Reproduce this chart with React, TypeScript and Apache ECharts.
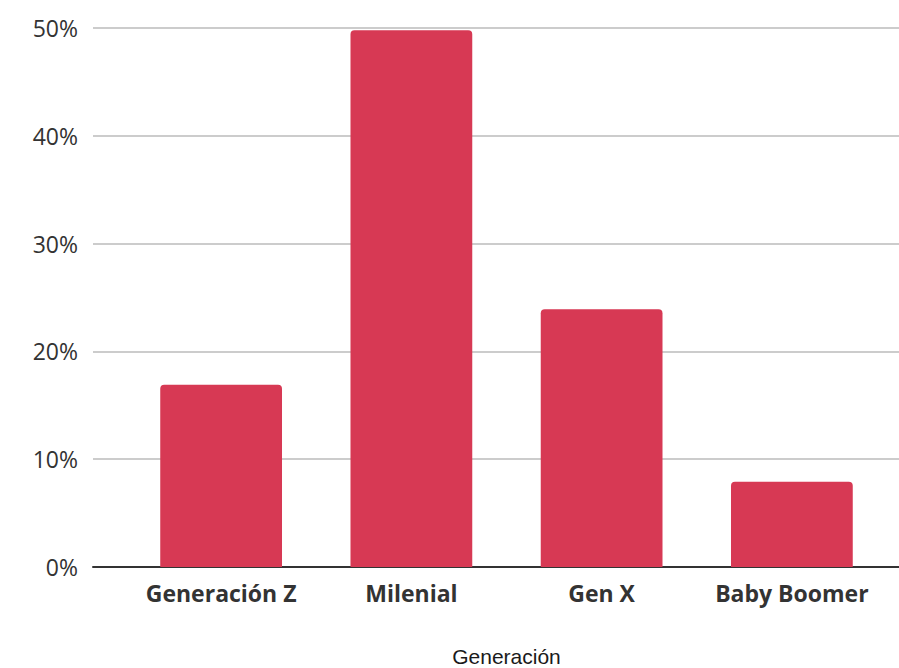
import React, { useEffect, useRef } from "react";
import * as echarts from "echarts";

const categories = ["Generación Z", "Milenial", "Gen X", "Baby Boomer"];
const shares = [16.9, 49.8, 23.9, 7.9];
const yTicks = [0, 10, 20, 30, 40, 50];
const xTitle = "Generación";

export default function App() {
  const ref = useRef<HTMLDivElement>(null);
  useEffect(() => {
    if (!ref.current) return;
    const chart = echarts.init(ref.current, null, { renderer: "svg" });
    const font = "'Open Sans', 'DejaVu Sans', sans-serif";
    chart.setOption({
      animation: false,
      backgroundColor: "#ffffff",
      grid: [
        { left: 93, right: 0, top: 28, bottom: 101, outerBoundsMode: "none", containLabel: false },
        { left: 126, right: 12, top: 28, bottom: 101, outerBoundsMode: "none", containLabel: false },
      ],
      xAxis: [
        {
          gridIndex: 0,
          type: "value",
          min: 0,
          max: 1,
          axisLine: { show: true, lineStyle: { color: "#333333", width: 2 } },
          axisTick: { show: false },
          axisLabel: { show: false },
          splitLine: { show: false },
        },
        {
          gridIndex: 1,
          type: "category",
          data: categories,
          axisLine: { show: false },
          axisTick: { show: false },
          axisLabel: {
            interval: 0,
            hideOverlap: false,
            color: "#333333",
            fontFamily: font,
            fontWeight: "bold",
            fontSize: 23,
            margin: 14,
          },
          name: xTitle,
          nameLocation: "middle",
          nameGap: 79,
          nameTextStyle: {
            color: "#1a1a1a",
            fontFamily: "'Liberation Sans', Arial, sans-serif",
            fontSize: 21,
          },
        },
      ],
      yAxis: [
        {
          gridIndex: 0,
          type: "value",
          min: yTicks[0],
          max: yTicks[yTicks.length - 1],
          interval: 10,
          axisLine: { show: false },
          axisTick: { show: false },
          axisLabel: {
            color: "#333333",
            fontFamily: font,
            fontSize: 23,
            margin: 15,
            formatter: (v: number) => `${v}%`,
          },
          splitLine: { show: true, lineStyle: { color: "#cccccc", width: 2 } },
        },
        {
          gridIndex: 1,
          type: "value",
          min: yTicks[0],
          max: yTicks[yTicks.length - 1],
          interval: 10,
          show: false,
          splitLine: { show: false },
        },
      ],
      series: [
        {
          type: "bar",
          xAxisIndex: 1,
          yAxisIndex: 1,
          data: shares,
          barWidth: "64%",
          itemStyle: { color: "#d73954", borderRadius: [4, 4, 0, 0] },
          z: 1,
        },
      ],
    });
    return () => chart.dispose();
  }, []);
  return (
    <div
      ref={ref}
      style={{ position: "absolute", left: 0, top: 0, width: 899, height: 668 }}
    />
  );
}
